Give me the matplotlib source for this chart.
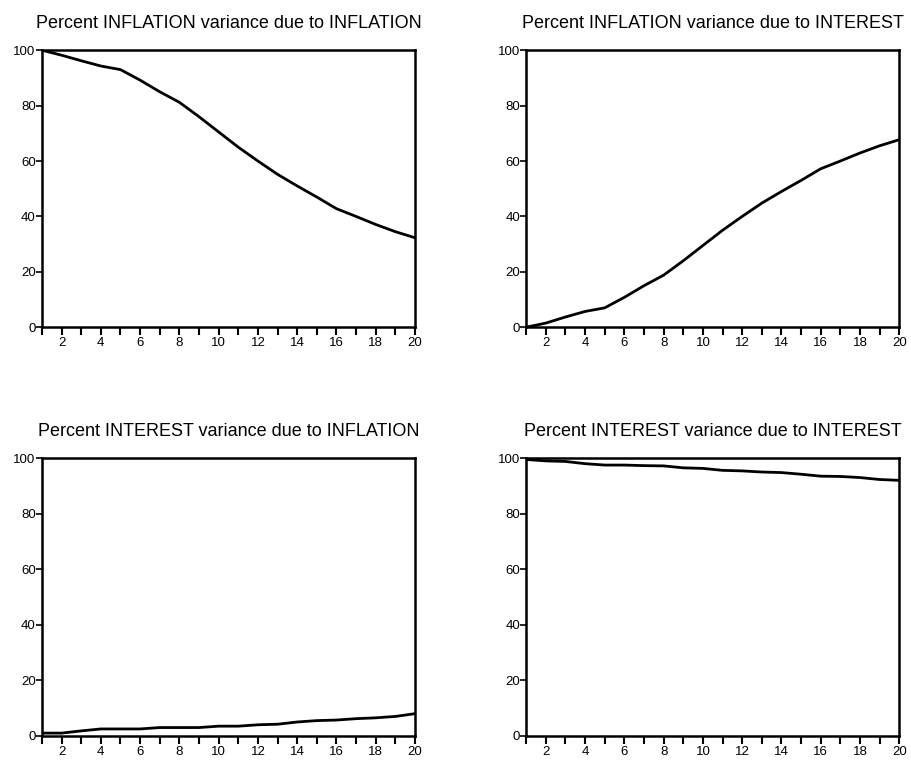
import numpy as np
import matplotlib
matplotlib.use("Agg")
import matplotlib.pyplot as plt

periods = list(range(1, 21))

infl_due_infl = [100, 98.2, 96.2, 94.3, 93.0, 89.2, 85.0, 81.2, 76.0, 70.5,
                 65.0, 60.0, 55.2, 51.0, 47.0, 42.8, 40.0, 37.1, 34.5, 32.3]
infl_due_int = [0, 1.5, 3.7, 5.7, 7.0, 10.8, 15.0, 18.8, 24.0, 29.5,
                35.0, 40.0, 44.8, 49.0, 53.0, 57.2, 60.0, 62.9, 65.5, 67.7]
int_due_infl = [1.0, 1.0, 1.8, 2.5, 2.5, 2.5, 3.0, 3.0, 3.0, 3.5,
                3.5, 4.0, 4.2, 5.0, 5.5, 5.7, 6.2, 6.5, 7.0, 8.0]
int_due_int = [99.5, 99.0, 98.8, 98.0, 97.5, 97.5, 97.3, 97.2, 96.5, 96.3,
               95.6, 95.4, 95.0, 94.8, 94.2, 93.5, 93.4, 93.0, 92.3, 92.0]

titles = ["Percent INFLATION variance due to INFLATION",
          "Percent INFLATION variance due to INTEREST",
          "Percent INTEREST variance due to INFLATION",
          "Percent INTEREST variance due to INTEREST"]
series = [infl_due_infl, infl_due_int, int_due_infl, int_due_int]

plt.rcParams['font.family'] = ['Liberation Sans', 'DejaVu Sans']

fig = plt.figure(figsize=(9.12, 7.61), dpi=100)
boxes = [[0.046, 0.570, 0.409, 0.364],
         [0.577, 0.570, 0.409, 0.364],
         [0.046, 0.033, 0.409, 0.365],
         [0.577, 0.033, 0.409, 0.365]]

for box, title, vals in zip(boxes, titles, series):
    ax = fig.add_axes(box)
    ax.plot(periods, vals, color='black', lw=2)
    ax.set_xlim(1, 20)
    ax.set_ylim(0, 100)
    ax.set_xticks(periods)
    ax.set_xticklabels([str(p) if p % 2 == 0 else "" for p in periods])
    ax.set_yticks([0, 20, 40, 60, 80, 100])
    ax.tick_params(axis='x', direction='out', length=6, width=1.5, labelsize=9.5, pad=1)
    ax.tick_params(axis='y', direction='out', length=4, width=1.2, labelsize=9.5, pad=0.5)
    for s in ax.spines.values():
        s.set_linewidth(1.8)
    ax.set_title(title, fontsize=13, pad=16)

fig.savefig("out.png", dpi=100)
